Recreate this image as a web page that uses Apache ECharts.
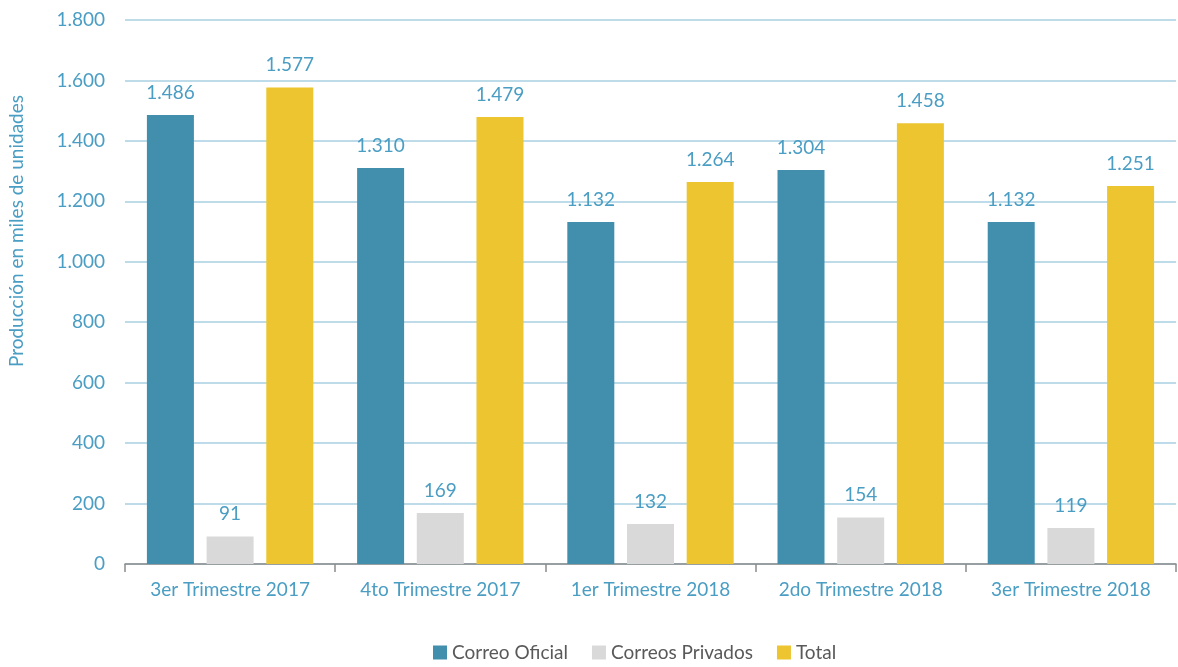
<!DOCTYPE html>
<html><head><meta charset="utf-8">
<script src="https://cdn.jsdelivr.net/npm/echarts@6/dist/echarts.min.js"></script>
<style>html,body{margin:0;padding:0;background:#fff}#c{width:1178px;height:667px}</style>
</head><body><div id="c"></div>
<script>
const categories = ["3er Trimestre 2017","4to Trimestre 2017","1er Trimestre 2018","2do Trimestre 2018","3er Trimestre 2018"];
const correoOficial = [1486, 1310, 1132, 1304, 1132];
const correosPrivados = [91, 169, 132, 154, 119];
const total = [1577, 1479, 1264, 1458, 1251];
const seriesNames = ["Correo Oficial","Correos Privados","Total"];
const yAxisTitle = "Producción en miles de unidades";

const txt = '#4A9DC3';
const fmt = v => String(v).replace(/\B(?=(\d{3})+(?!\d))/g, '.');
const font = 'Lato, "Open Sans", sans-serif';
const fs = 19;
const chart = echarts.init(document.getElementById('c'));
const mk = (name, data, color) => ({
  name, type: 'bar', data, barWidth: 47, barGap: '27%',
  itemStyle: {color},
  label: {show: true, position: 'top', distance: 13, color: txt, fontSize: fs, fontFamily: font,
    formatter: p => fmt(p.value)}
});
chart.setOption({
  animation: false,
  textStyle: {fontFamily: font},
  grid: {left: 125, right: 2, top: 20, bottom: 103, containLabel: false},
  xAxis: {type: 'category', data: categories,
    axisLine: {lineStyle: {color: '#8c8c8c', width: 1.5}},
    axisTick: {show: true, interval: 0, length: 8, lineStyle: {color: '#8c8c8c', width: 1.5}},
    axisLabel: {interval: 0, color: txt, fontSize: fs, margin: 16, fontFamily: font}},
  yAxis: {type: 'value', min: 0, max: 1800, interval: 200,
    axisLine: {show: false}, axisTick: {show: false},
    splitLine: {lineStyle: {color: '#A9CFE3', width: 1.5}},
    axisLabel: {color: txt, fontSize: fs, margin: 20, fontFamily: font, formatter: v => fmt(v)}},
  legend: {bottom: 0, left: 428, itemWidth: 14, itemHeight: 14, itemGap: 24,
    icon: 'rect', textStyle: {color: '#595959', fontSize: fs, fontFamily: font},
    data: seriesNames},
  graphic: [{type: 'text', left: 7, top: 95, rotation: Math.PI/2,
    style: {text: yAxisTitle, fill: txt, font: '19px ' + font}}],
  series: [
    mk(seriesNames[0], correoOficial, '#428EAD'),
    mk(seriesNames[1], correosPrivados, '#D9D9D9'),
    mk(seriesNames[2], total, '#ECC531')
  ]
});
</script></body></html>
